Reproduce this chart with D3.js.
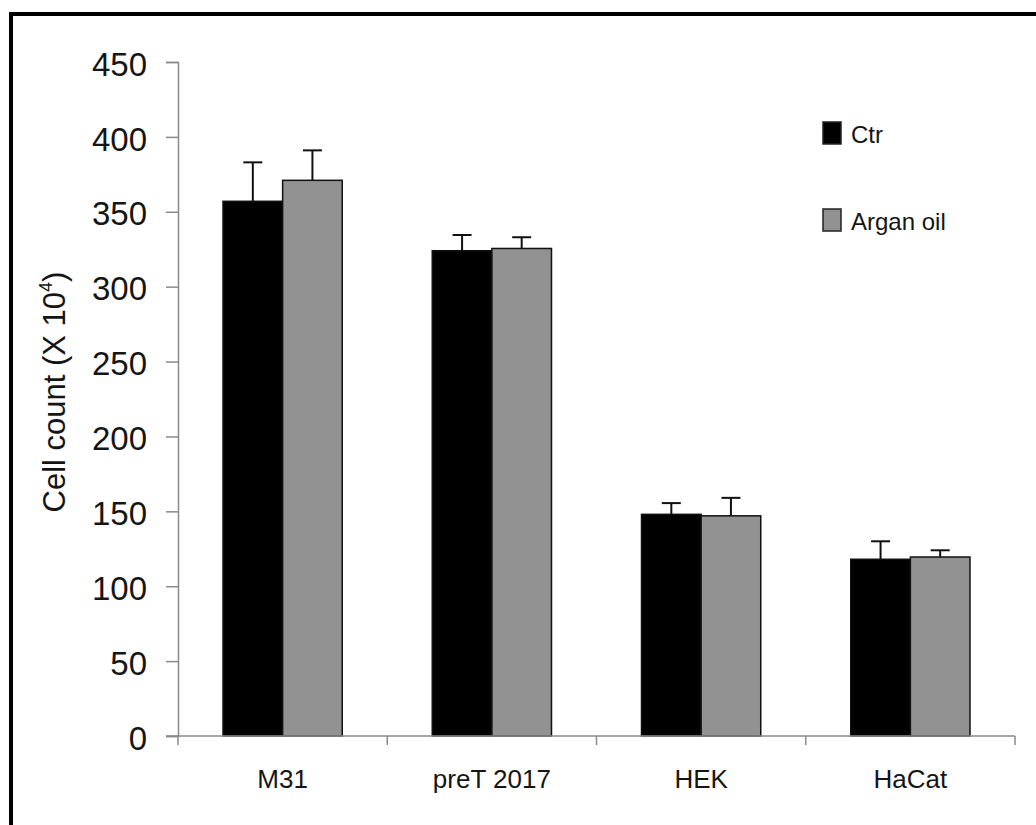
<!DOCTYPE html>
<html>
<head>
<meta charset="utf-8">
<script src="https://cdn.jsdelivr.net/npm/d3@7"></script>
<style>
  html, body { margin: 0; padding: 0; background: #fff; }
  svg { display: block; }
  text { font-family: "Liberation Sans", Arial, Helvetica, sans-serif; fill: #151515; }
</style>
</head>
<body>
<svg id="chart" width="1036" height="825"></svg>
<script>
// Cell lines and treatment groups
const categories = ["M31", "preT 2017", "HEK", "HaCat"];
const seriesNames = ["Ctr", "Argan oil"];

// Mean cell counts (x 10^4) and standard deviations
const ctrValues   = [357, 324, 148, 118];
const ctrErrors   = [26, 10.5, 7.5, 12];
const arganValues = [371, 325.5, 147, 119.5];
const arganErrors = [20, 7.5, 12, 4.5];

const yTicks = [0, 50, 100, 150, 200, 250, 300, 350, 400, 450];

const seriesFill = { "Ctr": "#000000", "Argan oil": "#929292" };

const rows = categories.map((c, i) => ({
  category: c,
  bars: [
    { series: "Ctr", value: ctrValues[i], err: ctrErrors[i] },
    { series: "Argan oil", value: arganValues[i], err: arganErrors[i] }
  ]
}));

const svg = d3.select("#chart");

// Frame lines along top and left edges
svg.append("rect").attr("x", 9).attr("y", 12).attr("width", 1027).attr("height", 4).attr("fill", "#000");
svg.append("rect").attr("x", 9).attr("y", 12).attr("width", 4).attr("height", 813).attr("fill", "#000");

const plot = { left: 178, right: 1015, top: 62, bottom: 736 };

const y = d3.scaleLinear().domain([0, 450]).range([plot.bottom, plot.top]);
const x0 = d3.scaleBand().domain(categories).range([plot.left, plot.right]).paddingInner(0).paddingOuter(0);
const x1 = d3.scaleBand().domain(seriesNames).range([0, x0.bandwidth()]).paddingInner(0).paddingOuter(0.755);

const axisColor = "#8a8a8a";

// Y axis
const yAxis = svg.append("g")
  .attr("transform", `translate(${plot.left},0)`)
  .call(d3.axisLeft(y).tickValues(yTicks).tickSize(12).tickPadding(19).tickFormat(d3.format("d")));
yAxis.select(".domain").attr("stroke", axisColor).attr("stroke-width", 1.5);
yAxis.selectAll(".tick line").attr("stroke", axisColor).attr("stroke-width", 1.5);
yAxis.selectAll(".tick text")
  .attr("font-size", 33)
  .attr("font-family", "Liberation Sans, Arial, sans-serif")
  .attr("fill", "#2a2a2a")
  .attr("dy", "0.4em");

// Bars
const groups = svg.append("g").selectAll("g")
  .data(rows)
  .join("g")
  .attr("transform", d => `translate(${x0(d.category)},0)`);

groups.selectAll("rect")
  .data(d => d.bars)
  .join("rect")
  .attr("x", d => x1(d.series))
  .attr("y", d => y(d.value))
  .attr("width", x1.bandwidth())
  .attr("height", d => y(0) - y(d.value))
  .attr("fill", d => seriesFill[d.series])
  .attr("stroke", "#111")
  .attr("stroke-width", 1.5);

// Error bars (upper only)
const capHalf = 9.5;
const eb = groups.selectAll("g.err")
  .data(d => d.bars)
  .join("g")
  .attr("class", "err");
eb.append("line")
  .attr("x1", d => x1(d.series) + x1.bandwidth() / 2)
  .attr("x2", d => x1(d.series) + x1.bandwidth() / 2)
  .attr("y1", d => y(d.value))
  .attr("y2", d => y(d.value + d.err))
  .attr("stroke", "#111").attr("stroke-width", 2);
eb.append("line")
  .attr("x1", d => x1(d.series) + x1.bandwidth() / 2 - capHalf)
  .attr("x2", d => x1(d.series) + x1.bandwidth() / 2 + capHalf)
  .attr("y1", d => y(d.value + d.err))
  .attr("y2", d => y(d.value + d.err))
  .attr("stroke", "#111").attr("stroke-width", 2);

// X axis with ticks between categories
const xAxis = svg.append("g")
  .attr("transform", `translate(0,${plot.bottom})`);
const boundaries = categories.map(c => x0(c)).concat([x0(categories[categories.length - 1]) + x0.bandwidth()]);
xAxis.append("line")
  .attr("x1", plot.left - 12).attr("x2", plot.right)
  .attr("y1", 0).attr("y2", 0)
  .attr("stroke", axisColor).attr("stroke-width", 1.5);
xAxis.selectAll("line.tk")
  .data(boundaries)
  .join("line")
  .attr("class", "tk")
  .attr("x1", d => d).attr("x2", d => d)
  .attr("y1", 0).attr("y2", 9)
  .attr("stroke", axisColor).attr("stroke-width", 1.5);
xAxis.selectAll("text")
  .data(categories)
  .join("text")
  .attr("x", d => x0(d) + x0.bandwidth() / 2)
  .attr("y", 52)
  .attr("text-anchor", "middle")
  .attr("font-size", 26)
  .text(d => d);

// Y axis title
const title = svg.append("text")
  .attr("transform", "translate(65,392) rotate(-90)")
  .attr("text-anchor", "middle")
  .attr("font-size", 31);
title.append("tspan").text("Cell count (X 10");
title.append("tspan").attr("font-size", 18).attr("dy", "-0.75em").text("4");
title.append("tspan").attr("dy", "0.45em").text(")");

// Legend
const legend = svg.append("g").attr("transform", "translate(823,0)");
const legendRows = [
  { series: "Ctr", y: 122 },
  { series: "Argan oil", y: 209 }
];
legend.selectAll("rect")
  .data(legendRows)
  .join("rect")
  .attr("x", 0)
  .attr("y", d => d.y)
  .attr("width", 18)
  .attr("height", 22)
  .attr("fill", d => seriesFill[d.series])
  .attr("stroke", "#222")
  .attr("stroke-width", 1.5);
legend.selectAll("text")
  .data(legendRows)
  .join("text")
  .attr("x", 28)
  .attr("y", d => d.y + 21)
  .attr("font-size", 24)
  .text(d => d.series);
</script>
</body>
</html>
